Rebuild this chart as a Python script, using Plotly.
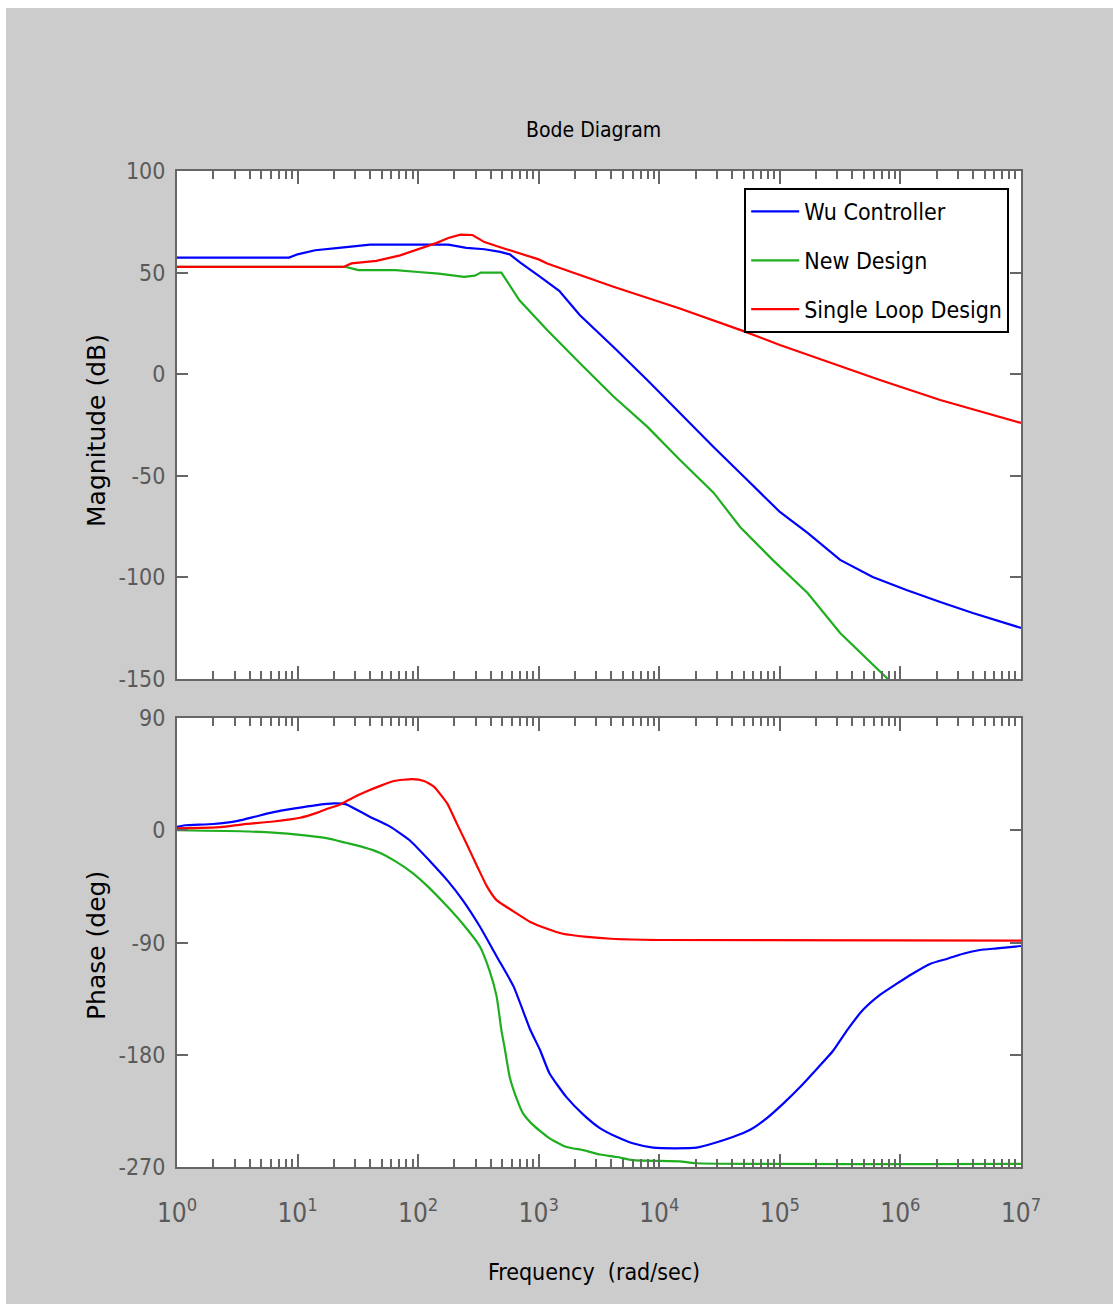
import plotly.graph_objects as go

# ---------------- data ----------------
# Magnitude (dB)
wu_mag_w = [1, 8.5, 10, 14, 22, 40, 178, 251, 355, 479, 575, 708, 1023, 1479, 2188, 4169, 7943,
            14791, 28184, 53703, 100000, 169824, 316228, 588844, 1122018, 2137962, 3981072, 10000000]
wu_mag = [57.4, 57.4, 59.0, 61.0, 62.2, 63.8, 63.8, 62.2, 61.5, 60.2, 59.0, 54.8, 48.0, 41.0, 29.1, 13.4, -2.9,
          -19.1, -35.8, -52.1, -67.8, -78.1, -91.4, -99.8, -106.2, -112.1, -117.5, -124.9]

new_mag_w = [1, 25, 32, 65, 100, 148, 240, 295, 331, 490, 692, 1175, 2188, 4169, 7943, 14791, 28184,
             46774, 87096, 169824, 316228, 776247, 1000000]
new_mag = [52.8, 52.8, 51.2, 51.2, 50.3, 49.5, 47.9, 48.5, 50.0, 50.0, 36.4, 21.7, 5.5, -11.0, -25.8, -42.1, -58.3,
           -75.2, -91.4, -107.7, -127.4, -149.5, -156.0]

single_mag_w = [1, 24, 28, 45, 71, 100, 141, 178, 224, 282, 355, 479, 708, 1000, 1175, 2188, 4169, 14791,
                46774, 100000, 676083, 2137962, 10000000]
single_mag = [52.8, 52.8, 54.5, 55.8, 58.5, 61.5, 64.5, 67.0, 68.7, 68.5, 65.0, 62.5, 59.5, 56.5, 54.5, 48.8, 43.0, 32.3,
              21.8, 14.4, -2.9, -12.7, -24.0]

# Phase (deg)
wu_ph_w = [1, 1.17, 2, 3.2, 4.5, 6.3, 9.5, 14, 20, 25, 27, 40, 59, 85, 126, 174, 234, 324, 447, 617, 851,
           1023, 1230, 1698, 2344, 3236, 4467, 6026, 8913, 13490, 20417, 28184, 40738, 56234, 77625, 107152,
           147911, 204174, 275423, 363078, 489779, 676083, 933254, 1258925, 1778279, 2454709, 3311311, 4570882,
           6309573, 10000000]
wu_ph = [2.8, 4.0, 5.0, 7.5, 11.0, 14.5, 17.5, 20.0, 21.5, 21.0, 19.5, 10.7, 2.7, -8.0, -25.0, -40.0, -56.0, -77.0,
         -101.0, -125.0, -160.0, -176.0, -195.0, -214.0, -228.0, -239.0, -246.0, -251.0, -254.5, -255.0, -254.5,
         -251.0, -246.0, -240.4, -231.0, -219.0, -205.7, -191.0, -177.0, -160.0, -144.0, -132.0, -123.0, -115.0,
         -107.0, -103.0, -99.0, -96.0, -94.7, -92.8]

new_ph_w = [1, 4, 10, 17.8, 25, 35, 48, 65, 89, 123, 170, 234, 324, 389, 447, 490, 525, 575, 661, 741,
            891, 1230, 1698, 2344, 3236, 4467, 6026, 14791, 19953, 10000000]
new_ph = [0.0, -1.0, -3.5, -6.5, -10.0, -13.5, -18.0, -25.0, -34.0, -46.0, -60.0, -75.0, -93.0, -112.0, -133.0,
          -160.0, -176.0, -198.0, -216.0, -227.0, -236.0, -247.0, -254.0, -256.5, -260.0, -262.0, -264.5,
          -265.5, -267.0, -267.5]

single_ph_w = [1, 2.3, 3.5, 6.3, 10.5, 14, 17.4, 22.4, 26.3, 31.6, 38, 46.8, 63, 89, 112, 135, 174, 209, 251,
               309, 372, 447, 617, 851, 1175, 1585, 2512, 3981, 10000, 10000000]
single_ph = [1.5, 2.5, 4.7, 7.0, 10.0, 13.5, 17.0, 20.5, 24.0, 28.0, 31.5, 35.0, 39.5, 41.0, 39.5, 35.0, 21.5, 5.5,
             -10.5, -29.0, -45.0, -56.0, -65.0, -73.5, -79.0, -83.0, -85.5, -87.0, -88.0, -88.5]

series_names = ["Wu Controller", "New Design", "Single Loop Design"]
series_colors = ["#0000ff", "#1fae1f", "#ff0000"]

x_tickvals = [1, 10, 100, 1000, 10000, 100000, 1000000, 10000000]
x_ticktext = ["10<sup>%d</sup>" % i for i in range(8)]
mag_ticks = [100, 50, 0, -50, -100, -150]
mag_ticktext = ["100", "50", "0", "-50", "-100", "-150"]
ph_ticks = [90, 0, -90, -180, -270]
ph_ticktext = ["90", "0", "-90", "-180", "-270"]

# ---------------- figure ----------------
NARROW = "DejaVu Sans Condensed, Liberation Sans Narrow, sans-serif"
AX = "#666666"
TICKFONT = dict(family=NARROW, size=23, color="#5a5a5a")

minor_vals = [m * 10 ** k for k in range(7) for m in range(2, 10)]

fig = go.Figure()
mag_data = [(wu_mag_w, wu_mag), (new_mag_w, new_mag), (single_mag_w, single_mag)]
ph_data = [(wu_ph_w, wu_ph), (new_ph_w, new_ph), (single_ph_w, single_ph)]
for i, name in enumerate(series_names):
    fig.add_trace(go.Scatter(x=mag_data[i][0], y=mag_data[i][1], mode="lines", name=name,
                             legendgroup=name, line=dict(color=series_colors[i], width=2.2),
                             xaxis="x", yaxis="y"))
for i, name in enumerate(series_names):
    fig.add_trace(go.Scatter(x=ph_data[i][0], y=ph_data[i][1], mode="lines", name=name,
                             legendgroup=name, showlegend=False,
                             line=dict(color=series_colors[i], width=2.2, shape="spline", smoothing=0.5),
                             xaxis="x2", yaxis="y2"))

xcommon = dict(type="log", range=[0, 7], showgrid=False, zeroline=False, showline=True,
               linecolor=AX, linewidth=2, mirror="ticks", ticks="inside", ticklen=13,
               tickcolor=AX, tickwidth=1.5, tickmode="array", tickvals=x_tickvals,
               minor=dict(tickmode="array", tickvals=minor_vals, ticks="inside", ticklen=8,
                          tickcolor=AX, tickwidth=1.5, showgrid=False))
ycommon = dict(showgrid=False, zeroline=False, showline=True, linecolor=AX, linewidth=2,
               mirror="ticks", ticks="inside", ticklen=11, tickcolor=AX, tickwidth=1.5,
               tickfont=TICKFONT, ticklabelstandoff=5, tickmode="array")

fig.update_layout(
    width=1113, height=1304,
    margin=dict(l=177, r=92, t=171, b=137),
    paper_bgcolor="#cccccc", plot_bgcolor="#ffffff",
    xaxis=dict(**xcommon, domain=[0, 1], anchor="y", showticklabels=False),
    yaxis=dict(**ycommon, domain=[0.49, 1.0], range=[-150, 100], tickvals=mag_ticks,
               ticktext=mag_ticktext, anchor="x"),
    xaxis2=dict(**xcommon, domain=[0, 1], anchor="y2", ticktext=x_ticktext,
                tickfont=dict(family=NARROW, size=26, color="#5a5a5a"), ticklabelstandoff=22),
    yaxis2=dict(**ycommon, domain=[0.0, 0.4508], range=[-270, 90], tickvals=ph_ticks,
                ticktext=ph_ticktext, anchor="x2"),
    showlegend=True,
    legend=dict(x=0.986, y=0.983, xanchor="right", yanchor="top", bgcolor="#ffffff",
                bordercolor="#000000", borderwidth=2, traceorder="grouped", tracegroupgap=16,
                font=dict(family=NARROW, size=23, color="#000000"),
                itemwidth=48),
    shapes=[
        dict(type="rect", xref="paper", yref="paper", x0=-0.215, x1=1.12, y0=1.1637, y1=1.18,
             fillcolor="#ffffff", line=dict(width=0), layer="below"),
        dict(type="rect", xref="paper", yref="paper", x0=-0.215, x1=-0.2026, y0=-0.15, y1=1.18,
             fillcolor="#ffffff", line=dict(width=0), layer="below"),
    ],
    annotations=[
        dict(text="Bode Diagram", xref="paper", yref="paper", x=0.494, y=1.0412, showarrow=False,
             font=dict(family=NARROW, size=21, color="#000000"), xanchor="center", yanchor="middle"),
        dict(text="Magnitude (dB)", xref="paper", yref="paper", x=-0.0948, y=0.740, showarrow=False,
             textangle=-90, font=dict(family="DejaVu Sans", size=25, color="#000000"),
             xanchor="center", yanchor="middle"),
        dict(text="Phase (deg)", xref="paper", yref="paper", x=-0.0948, y=0.2229, showarrow=False,
             textangle=-90, font=dict(family="DejaVu Sans", size=25, color="#000000"),
             xanchor="center", yanchor="middle"),
        dict(text="Frequency  (rad/sec)", xref="paper", yref="paper", x=0.494, y=-0.1054, showarrow=False,
             font=dict(family=NARROW, size=23, color="#000000"), xanchor="center", yanchor="middle"),
    ],
)

fig.write_html("out.html")
